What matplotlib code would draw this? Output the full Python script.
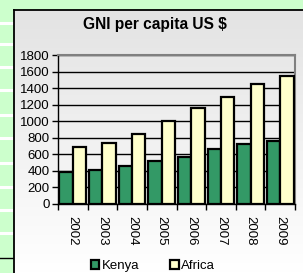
import numpy as np
import matplotlib
matplotlib.use("Agg")
import matplotlib.pyplot as plt
from matplotlib.patches import Patch

plt.rcParams['font.family'] = ['Liberation Sans', 'DejaVu Sans']

# data
years = ['2002', '2003', '2004', '2005', '2006', '2007', '2008', '2009']
kenya = [390, 410, 460, 520, 570, 660, 730, 760]
africa = [690, 740, 850, 1000, 1160, 1290, 1450, 1550]
y_ticks = [0, 200, 400, 600, 800, 1000, 1200, 1400, 1600, 1800]

W, H = 303, 273
fig = plt.figure(figsize=(W / 100, H / 100), dpi=100)
fig.patch.set_facecolor('#ccffcc')

# green strip on the left with white rules
strip = fig.add_axes([0, 0, 14 / W, 1])
strip.set_facecolor('#ccffcc')
strip.set_xlim(0, 1)
strip.set_ylim(H, 0)
for yy in [23, 44, 67, 90, 115, 138, 163, 187, 210, 233]:
    strip.axhline(yy, color='white', lw=2.2)
strip.axhline(258, color='black', lw=1)
strip.axis('off')

# chart area with grey-to-white gradient
bg = fig.add_axes([14 / W, 0, 1 - 14 / W, 1 - 10 / H])
grad = np.linspace(0, 1, 256).reshape(-1, 1)
bg.imshow(grad, aspect='auto', cmap=matplotlib.colors.LinearSegmentedColormap.from_list(
    'g', ['#e3e3e3', '#ffffff']), extent=[0, 1, 0, 1])
bg.set_xticks([])
bg.set_yticks([])
for s in ['right', 'bottom']:
    bg.spines[s].set_visible(False)
for s in ['left', 'top']:
    bg.spines[s].set_linewidth(1.3)
    bg.spines[s].set_color('black')

ax = fig.add_axes([58 / W, 1 - 204 / H, (295 - 58) / W, (204 - 55) / H])
ax.set_facecolor('none')
x = np.arange(len(years))
w = 0.45
ax.bar(x - w / 2, kenya, w, color='#339966', edgecolor='black', lw=1.6, zorder=3)
ax.bar(x + w / 2, africa, w, color='#ffffcc', edgecolor='black', lw=1.6, zorder=3)

ax.set_xlim(-0.5, len(years) - 0.5)
ax.set_ylim(0, 1800)
ax.set_yticks(y_ticks)
ax.set_yticklabels([str(t) for t in y_ticks], fontsize=9.5)
ax.yaxis.grid(True, color='black', lw=1, zorder=0)
ax.tick_params(axis='y', length=4, width=1, pad=2)

ax.set_xticks(np.arange(len(years) + 1) - 0.5)
ax.set_xticklabels([])
ax.tick_params(axis='x', which='major', length=4, width=1)
ax.set_xticks(x, minor=True)
ax.set_xticklabels(years, minor=True, rotation=270, fontsize=9.5)
ax.tick_params(axis='x', which='minor', length=0, pad=9)

for s in ['top', 'right']:
    ax.spines[s].set_color('#808080')
    ax.spines[s].set_linewidth(1.5)
for s in ['left', 'bottom']:
    ax.spines[s].set_color('black')
    ax.spines[s].set_linewidth(1)

fig.text(155 / W, 1 - 25 / H, 'GNI per capita US $', ha='center', va='center',
         fontsize=11.2, fontweight='bold')

handles = [Patch(facecolor='#339966', edgecolor='black', lw=1.6, label='Kenya'),
           Patch(facecolor='#ffffcc', edgecolor='black', lw=1.6, label='Africa')]
fig.legend(handles=handles, loc='center', bbox_to_anchor=(153 / W, 1 - 266 / H),
           ncol=2, frameon=False, fontsize=9.5, handlelength=0.65, handleheight=0.7,
           handletextpad=0.2, columnspacing=2.3, borderpad=0.2)

fig.savefig('out.png', dpi=100, facecolor=fig.get_facecolor())
